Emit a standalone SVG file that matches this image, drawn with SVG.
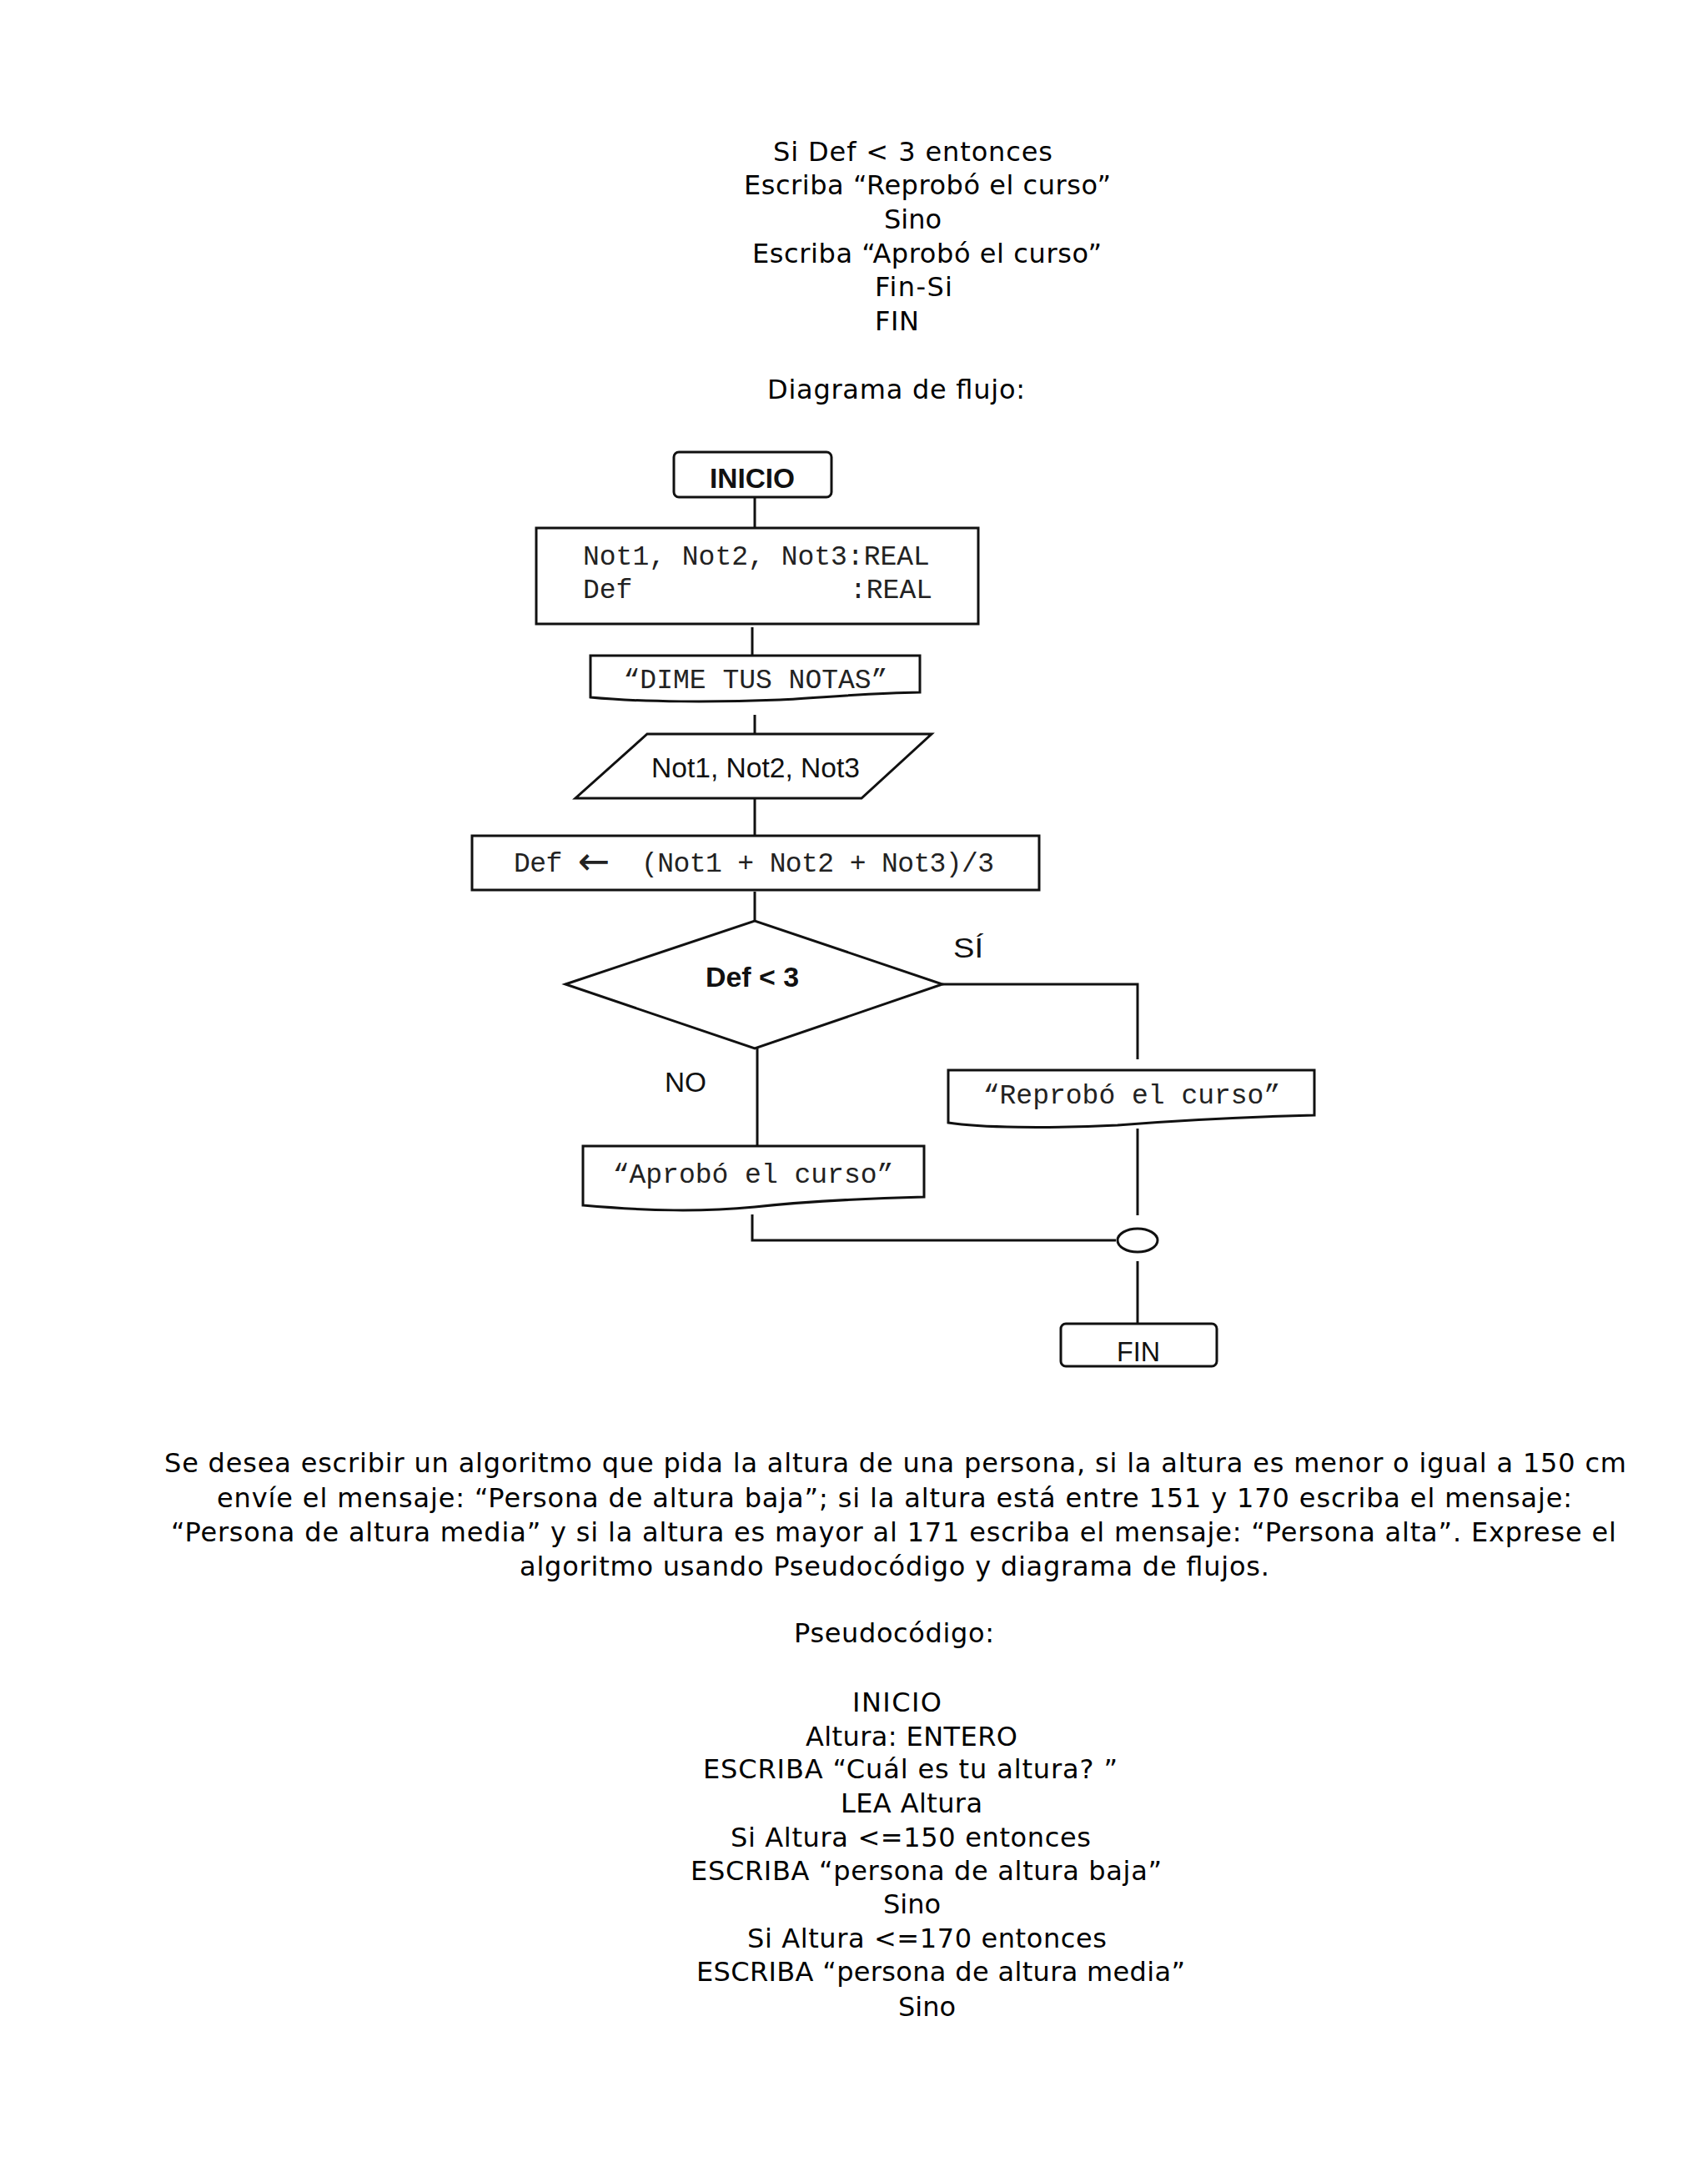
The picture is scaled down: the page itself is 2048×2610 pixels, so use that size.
<svg xmlns="http://www.w3.org/2000/svg" width="2048" height="2610" viewBox="0 0 2048 2610">
<style>
.b{font-family:"DejaVu Sans",Verdana,sans-serif;font-size:32px;fill:#000}
.m{font-family:"Liberation Mono","Courier New",monospace;font-size:33px;fill:#222}
.l{font-family:"Liberation Sans",Arial,sans-serif;font-size:33px;fill:#111}
.s{fill:#fff;stroke:#111;stroke-width:3}
.c{fill:none;stroke:#111;stroke-width:3}
</style>
<rect width="2048" height="2610" fill="#fff"/>
<g id="texto-superior" class="b" xml:space="preserve">
<text x="927" y="193" textLength="335">Si Def &lt; 3 entonces</text>
<text x="892" y="233" textLength="440">Escriba “Reprobó el curso”</text>
<text x="1060" y="274" textLength="69">Sino</text>
<text x="902" y="315" textLength="419">Escriba “Aprobó el curso”</text>
<text x="1049" y="355" textLength="93">Fin-Si</text>
<text x="1049" y="396" textLength="53">FIN</text>
<text x="920" y="478" textLength="309">Diagrama  de flujo:</text>
</g>
<g id="conectores">
<line class="c" x1="905" y1="596" x2="905" y2="633"/>
<line class="c" x1="902" y1="752" x2="902" y2="786"/>
<line class="c" x1="905" y1="857" x2="905" y2="880"/>
<line class="c" x1="905" y1="957" x2="905" y2="1002"/>
<line class="c" x1="905" y1="1069" x2="905" y2="1104"/>
<polyline class="c" points="1130,1180 1364,1180 1364,1270"/>
<line class="c" x1="1364" y1="1353" x2="1364" y2="1457"/>
<line class="c" x1="908" y1="1257" x2="908" y2="1374"/>
<polyline class="c" points="902,1456 902,1487 1338,1487"/>
<line class="c" x1="1364" y1="1512" x2="1364" y2="1587"/>
</g>
<g id="inicio">
<rect class="s" x="808" y="542" width="189" height="54" rx="6"/>
<text class="l" x="902" y="585" text-anchor="middle" font-weight="bold" textLength="102" lengthAdjust="spacingAndGlyphs">INICIO</text>
</g>
<g id="declaracion">
<rect class="s" x="643" y="633" width="530" height="115"/>
<text class="m" x="699" y="677">Not1, Not2, Not3:REAL</text>
<text class="m" x="699" y="717">Def</text>
<text class="m" x="1118" y="717" text-anchor="end">:REAL</text>
</g>
<g id="dime-notas">
<path class="s" d="M708,786 H1103 V830 C1040,831 990,836 935,839 C860,842 770,842 708,836 Z"/>
<text class="m" x="906" y="825" text-anchor="middle">“DIME TUS NOTAS”</text>
</g>
<g id="leer-notas">
<polygon class="s" points="776,880 1117,880 1033,957 690,957"/>
<text class="l" x="906" y="932" text-anchor="middle" textLength="250" lengthAdjust="spacingAndGlyphs">Not1, Not2, Not3</text>
</g>
<g id="calculo">
<rect class="s" x="566" y="1002" width="680" height="65"/>
<text class="m" x="616" y="1045" xml:space="preserve" textLength="576">Def <tspan font-family="DejaVu Sans, sans-serif" font-size="46" dy="3">←</tspan><tspan dy="-3">  (Not1 + Not2 + Not3)/3</tspan></text>
</g>
<g id="decision">
<polygon class="s" points="678,1180 905,1104 1130,1180 905,1257"/>
<text class="l" x="902" y="1183" text-anchor="middle" font-weight="bold" textLength="112" lengthAdjust="spacingAndGlyphs">Def &lt; 3</text>
<text class="l" x="1161" y="1148" text-anchor="middle" textLength="36" lengthAdjust="spacingAndGlyphs">SÍ</text>
<text class="l" x="822" y="1309" text-anchor="middle" textLength="50" lengthAdjust="spacingAndGlyphs">NO</text>
</g>
<g id="reprobo">
<path class="s" d="M1137,1283 H1576 V1337 C1495,1339 1415,1343 1340,1349 C1255,1353 1175,1352 1137,1346 Z"/>
<text class="m" x="1357" y="1323" text-anchor="middle">“Reprobó el curso”</text>
</g>
<g id="aprobo">
<path class="s" d="M699,1374 H1108 V1435 C1030,1437 960,1441 905,1447 C840,1453 780,1452 699,1445 Z"/>
<text class="m" x="903" y="1418" text-anchor="middle">“Aprobó el curso”</text>
</g>
<g id="conector-union">
<ellipse class="s" cx="1364" cy="1487" rx="24" ry="14"/>
</g>
<g id="fin">
<rect class="s" x="1272" y="1587" width="187" height="51" rx="6"/>
<text class="l" x="1365" y="1632" text-anchor="middle" textLength="52" lengthAdjust="spacingAndGlyphs">FIN</text>
</g>
<g id="enunciado" class="b" xml:space="preserve">
<text x="197" y="1765" textLength="1753">Se desea escribir un algoritmo  que pida la altura de una persona, si la altura es menor o igual a 150 cm</text>
<text x="260" y="1807" textLength="1625">envíe el mensaje: “Persona de altura baja”; si la altura está entre 151 y 170 escriba el mensaje:</text>
<text x="205" y="1848" textLength="1733">“Persona de altura media” y si la altura es mayor al 171 escriba el mensaje: “Persona alta”. Exprese el</text>
<text x="623" y="1889" textLength="899">algoritmo  usando Pseudocódigo y diagrama  de flujos.</text>
</g>
<g id="pseudocodigo" class="b" xml:space="preserve">
<text x="952" y="1969" textLength="240">Pseudocódigo:</text>
<text x="1022" y="2052" textLength="107">INICIO</text>
<text x="966" y="2093" textLength="254">Altura: ENTERO</text>
<text x="843" y="2132" textLength="497">ESCRIBA  “Cuál es tu altura? ”</text>
<text x="1008" y="2173" textLength="170">LEA Altura</text>
<text x="876" y="2214" textLength="432">Si Altura &lt;=150  entonces</text>
<text x="828" y="2254" textLength="565">ESCRIBA “persona de altura baja”</text>
<text x="1059" y="2294" textLength="69">Sino</text>
<text x="896" y="2335" textLength="431">Si Altura &lt;=170  entonces</text>
<text x="835" y="2375" textLength="586">ESCRIBA “persona de altura media”</text>
<text x="1077" y="2417" textLength="69">Sino</text>
</g>
</svg>
